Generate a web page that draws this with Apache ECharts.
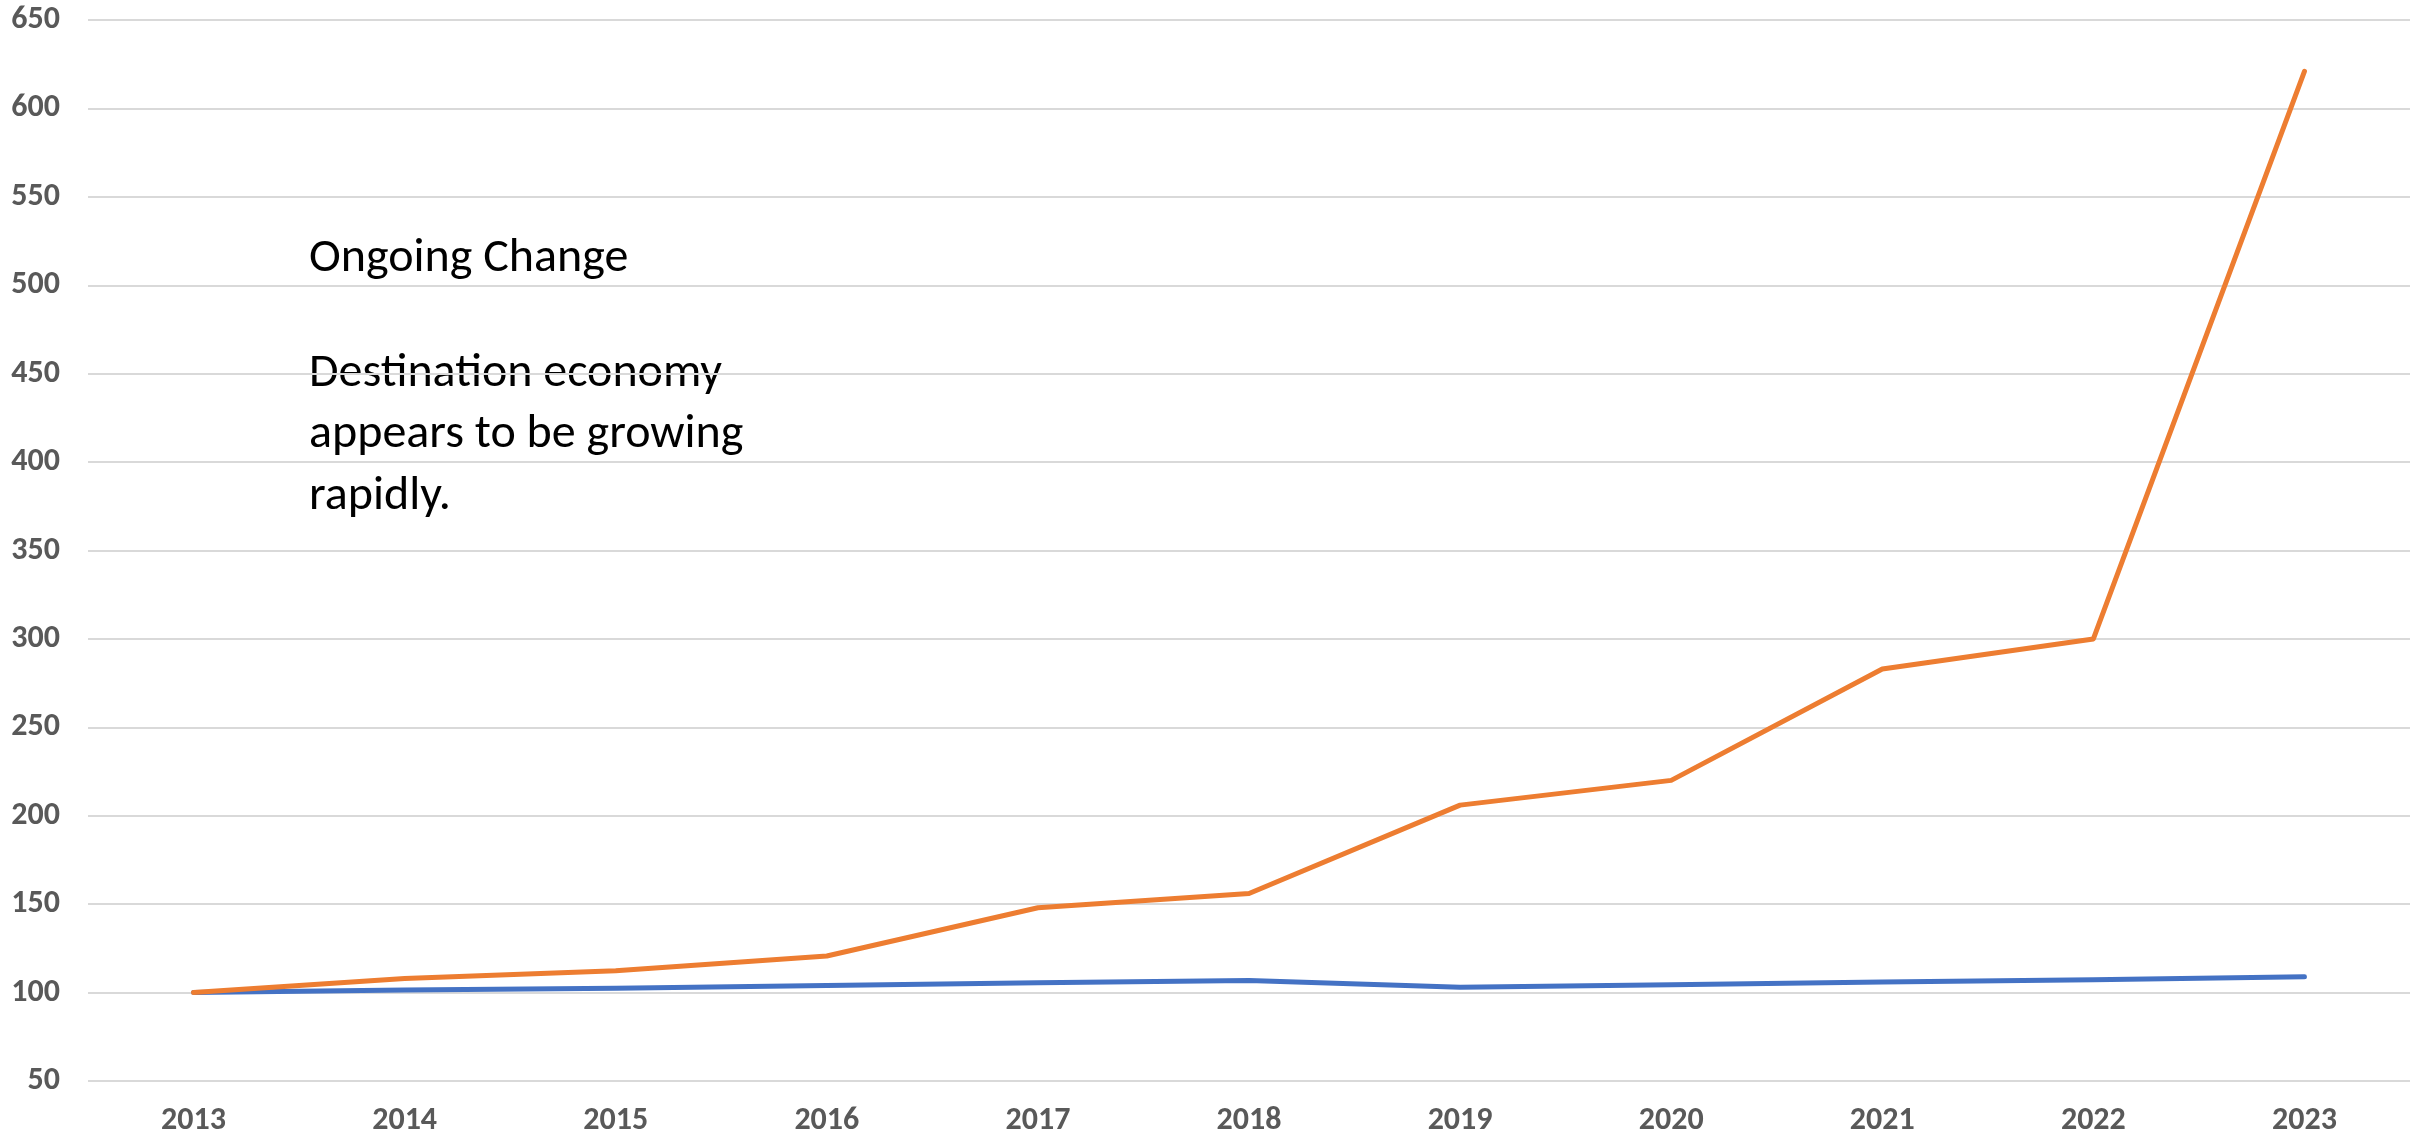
<!DOCTYPE html>
<html>
<head>
<meta charset="utf-8">
<script src="https://cdn.jsdelivr.net/npm/echarts@6/dist/echarts.min.js"></script>
<style>
html,body{margin:0;padding:0;background:#fff;}
#chart{width:2433px;height:1146px;}
</style>
</head>
<body>
<div id="chart"></div>
<script>
const years = ['2013','2014','2015','2016','2017','2018','2019','2020','2021','2022','2023'];
const originSeries = [100, 101.5, 102.4, 104, 105.6, 106.8, 103, 104.5, 106, 107.3, 109];
const destinationSeries = [100, 108, 112.4, 120.7, 148, 156, 206, 220, 283, 300, 621];
const noteTitle = 'Ongoing Change';
const noteBody = ['Destination economy', 'appears to be growing', 'rapidly.'];

const chart = echarts.init(document.getElementById('chart'), null, {renderer: 'canvas'});
const labelFont = "Carlito, Calibri, 'Liberation Sans', Arial, sans-serif";
const noteFont = "Carlito, Calibri, 'Liberation Sans', Arial, sans-serif";

chart.setOption({
  animation: false,
  backgroundColor: '#ffffff',
  grid: {left: 88, right: 23, top: 20, bottom: 65, containLabel: false},
  xAxis: {
    type: 'category',
    data: years,
    boundaryGap: true,
    axisLine: {show: false},
    axisTick: {show: false},
    axisLabel: {color: '#595959', fontWeight: 'bold', fontSize: 32, fontFamily: labelFont, margin: 24}
  },
  yAxis: {
    type: 'value',
    min: 50,
    max: 650,
    interval: 50,
    axisLine: {show: false},
    axisTick: {show: false},
    splitLine: {lineStyle: {color: '#D9D9D9', width: 2}},
    axisLabel: {color: '#595959', fontWeight: 'bold', fontSize: 32, fontFamily: labelFont, margin: 28}
  },
  series: [
    {
      name: 'Origin',
      type: 'line',
      data: originSeries,
      symbol: 'none',
      lineStyle: {color: '#4472C4', width: 5, cap: 'round', join: 'round'},
      itemStyle: {color: '#4472C4'}
    },
    {
      name: 'Destination',
      type: 'line',
      data: destinationSeries,
      symbol: 'none',
      lineStyle: {color: '#ED7D31', width: 5, cap: 'round', join: 'round'},
      itemStyle: {color: '#ED7D31'}
    }
  ],
  graphic: [
    {
      type: 'text',
      left: 309,
      top: 228,
      style: {text: noteTitle, font: '48px ' + noteFont, fill: '#000000', lineHeight: 61}
    },
    {
      type: 'text',
      left: 309,
      top: 343,
      style: {text: noteBody.join('\n'), font: '48px ' + noteFont, fill: '#000000', lineHeight: 61.5}
    }
  ]
});
</script>
</body>
</html>
